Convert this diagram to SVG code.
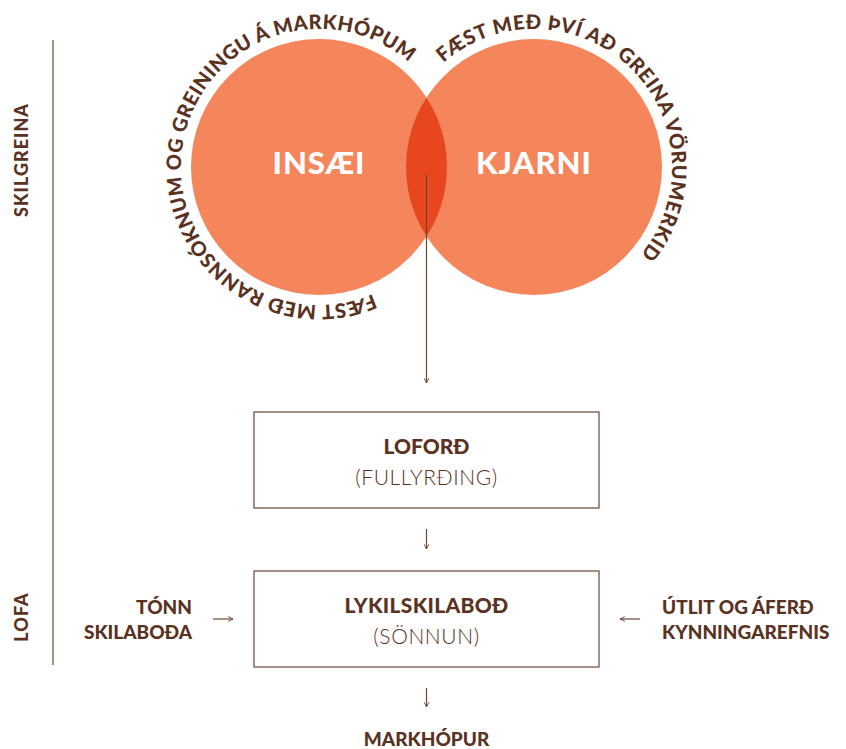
<svg xmlns="http://www.w3.org/2000/svg" xmlns:xlink="http://www.w3.org/1999/xlink" width="846" height="749" viewBox="0 0 846 749">
<style>
.b{font-family:Lato,"Liberation Sans",sans-serif;font-weight:900;fill:#5a3222}
.l{font-family:Lato,"Liberation Sans",sans-serif;font-weight:300;fill:#5a3222}
.w{font-family:Lato,"Liberation Sans",sans-serif;font-weight:900;fill:#ffffff}
.ln{stroke:#6b4535;stroke-width:1.2;fill:none}
.box{fill:#ffffff;stroke:#6b4535;stroke-width:1.2}
</style>
<defs>
<marker id="ah" viewBox="0 0 10 10" refX="9" refY="5" markerWidth="6" markerHeight="6" orient="auto" markerUnits="userSpaceOnUse">
<path d="M1,1 L9,5 L1,9" fill="none" stroke="#6b4535" stroke-width="1.5"/>
</marker>
<path id="arcL" d="M372.9,294 A138,138 0 1 1 409.5,62.8"/>
<path id="arcR" d="M443.5,62.8 A138,138 0 0 1 639.7,255.7"/>
<clipPath id="clipL"><circle cx="319" cy="167" r="128"/></clipPath>
</defs>
<rect width="846" height="749" fill="#ffffff"/>

<g id="circles">
<circle cx="319" cy="167" r="128" fill="#f5855a"/>
<circle cx="534" cy="167" r="128" fill="#f5855a"/>
<circle cx="534" cy="167" r="128" fill="#e8461f" clip-path="url(#clipL)"/>
</g>
<g id="insaei">
<text class="w" x="319" y="174" font-size="31" letter-spacing="1" text-anchor="middle">INSÆI</text>
<text class="b" font-size="20"><textPath xlink:href="#arcL" textLength="586" lengthAdjust="spacing">FÆST MEÐ RANNSÓKNUM OG GREININGU Á MARKHÓPUM</textPath></text>
</g>
<g id="kjarni">
<text class="w" x="534" y="174" font-size="31" letter-spacing="1" text-anchor="middle">KJARNI</text>
<text class="b" font-size="20"><textPath xlink:href="#arcR" textLength="410" lengthAdjust="spacing">FÆST MEÐ ÞVÍ AÐ GREINA VÖRUMERKID</textPath></text>
</g>

<g id="side">
<line class="ln" x1="53" y1="40" x2="53" y2="665"/>
<text class="b" font-size="18" transform="translate(28,160) rotate(-90)" text-anchor="middle" letter-spacing="1">SKILGREINA</text>
<text class="b" font-size="18" transform="translate(28,617) rotate(-90)" text-anchor="middle" letter-spacing="1">LOFA</text>
</g>

<g id="loford">
<rect class="box" x="254" y="412" width="345" height="96"/>
<text class="b" x="426.5" y="454" font-size="21" text-anchor="middle">LOFORÐ</text>
<text class="l" x="426.5" y="485" font-size="21" letter-spacing="0.6" text-anchor="middle">(FULLYRÐING)</text>
</g>

<g id="lykil">
<rect class="box" x="254" y="571" width="345" height="96"/>
<text class="b" x="426.5" y="613" font-size="21" letter-spacing="0.3" text-anchor="middle">LYKILSKILABOÐ</text>
<text class="l" x="426.5" y="644" font-size="21" letter-spacing="0.6" text-anchor="middle">(SÖNNUN)</text>
</g>

<g id="tonn">
<text class="b" x="192" y="614" font-size="19" text-anchor="end">TÓNN</text>
<text class="b" x="192" y="639" font-size="19" text-anchor="end">SKILABOÐA</text>
</g>

<g id="utlit">
<text class="b" x="662" y="614" font-size="19">ÚTLIT OG ÁFERÐ</text>
<text class="b" x="662" y="639" font-size="19">KYNNINGAREFNIS</text>
</g>

<g id="markhopur">
<text class="b" x="426.5" y="746" font-size="19" text-anchor="middle">MARKHÓPUR</text>
</g>

<g id="connectors">
<line class="ln" x1="426.5" y1="175" x2="426.5" y2="383" marker-end="url(#ah)"/>
<line class="ln" x1="426.5" y1="529" x2="426.5" y2="549" marker-end="url(#ah)"/>
<line class="ln" x1="213" y1="619" x2="233" y2="619" marker-end="url(#ah)"/>
<line class="ln" x1="640" y1="619" x2="620" y2="619" marker-end="url(#ah)"/>
<line class="ln" x1="426.5" y1="688" x2="426.5" y2="707" marker-end="url(#ah)"/>
</g>
</svg>
